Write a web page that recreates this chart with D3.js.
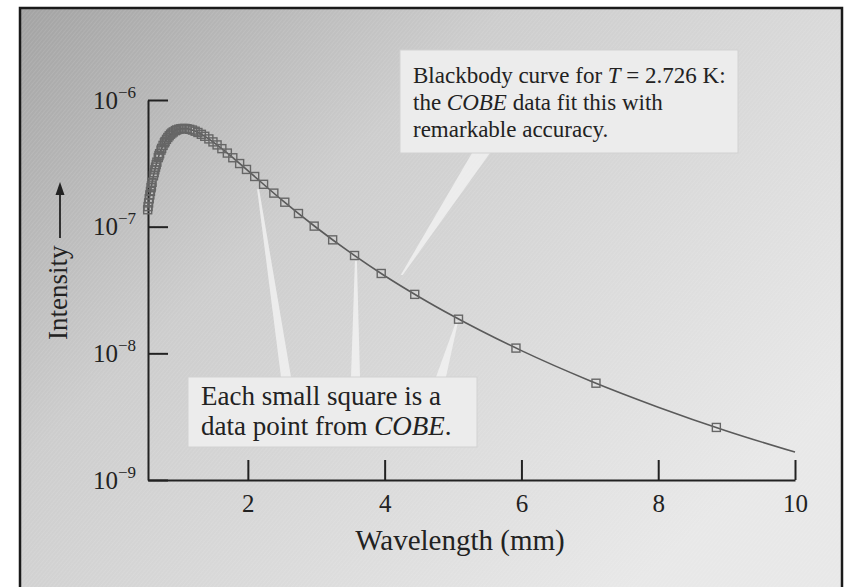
<!DOCTYPE html>
<html>
<head>
<meta charset="utf-8">
<script src="https://cdn.jsdelivr.net/npm/d3@7"></script>
<style>
  body { margin: 0; background: #fff; }
  svg text { font-family: "Liberation Serif", "Times New Roman", serif; fill: #222; }
</style>
</head>
<body>
<div id="chart"></div>
<script>
// COBE data points (wavelength in mm, intensity)
const cobeWavelength = [8.85, 7.09, 5.92, 5.08, 4.44, 3.95, 3.56, 3.24, 2.97, 2.74, 2.54, 2.38, 2.23, 2.10, 1.98,
  1.88, 1.78, 1.70, 1.62, 1.55, 1.49, 1.43, 1.37, 1.32, 1.27, 1.23, 1.19, 1.15, 1.11, 1.08, 1.05, 1.02, 0.99,
  0.96, 0.94, 0.91, 0.89, 0.87, 0.85, 0.83, 0.81, 0.79, 0.78, 0.76, 0.74, 0.73, 0.71, 0.70, 0.69, 0.67, 0.66,
  0.65, 0.64, 0.63, 0.62, 0.60, 0.59, 0.585, 0.576, 0.567, 0.558, 0.549, 0.541, 0.535]
const cobeIntensity = [2.60e-9, 5.81e-9, 1.10e-8, 1.86e-8, 2.92e-8, 4.27e-8, 5.92e-8, 7.87e-8, 1.01e-7, 1.27e-7,
  1.56e-7, 1.84e-7, 2.16e-7, 2.49e-7, 2.83e-7, 3.15e-7, 3.50e-7, 3.81e-7, 4.13e-7, 4.42e-7, 4.67e-7, 4.93e-7,
  5.17e-7, 5.36e-7, 5.54e-7, 5.67e-7, 5.79e-7, 5.87e-7, 5.93e-7, 5.96e-7, 5.96e-7, 5.93e-7, 5.88e-7, 5.80e-7,
  5.73e-7, 5.60e-7, 5.49e-7, 5.37e-7, 5.22e-7, 5.06e-7, 4.89e-7, 4.70e-7, 4.59e-7, 4.38e-7, 4.15e-7, 4.02e-7,
  3.77e-7, 3.64e-7, 3.51e-7, 3.23e-7, 3.09e-7, 2.95e-7, 2.81e-7, 2.67e-7, 2.52e-7, 2.24e-7, 2.10e-7, 2.03e-7,
  1.90e-7, 1.78e-7, 1.66e-7, 1.54e-7, 1.44e-7, 1.36e-7]

// blackbody curve T = 2.726 K, sampled from the drawn line
const curveWavelength = [0.535, 0.54, 0.6, 0.65, 0.7, 0.75, 0.8, 0.9, 1.0, 1.1, 1.2, 1.3, 1.4, 1.6, 1.8, 2.0,
  2.5, 3.0, 3.5, 4.0, 4.5, 5.0, 6.0, 7.0, 8.0, 9.0, 10.0]
const curveIntensity = [1.36e-7, 1.42e-7, 2.24e-7, 2.95e-7, 3.64e-7, 4.26e-7, 4.79e-7, 5.53e-7, 5.90e-7, 5.94e-7,
  5.76e-7, 5.44e-7, 5.05e-7, 4.21e-7, 3.43e-7, 2.77e-7, 1.62e-7, 9.85e-8, 6.23e-8, 4.10e-8, 2.80e-8, 1.97e-8,
  1.05e-8, 6.08e-9, 3.76e-9, 2.44e-9, 1.66e-9]

const xTicks = [2, 4, 6, 8, 10]
const yTicks = [1e-6, 1e-7, 1e-8, 1e-9]
const yExponents = ['−6', '−7', '−8', '−9']

const width = 848
const height = 587

const svg = d3.select('#chart').append('svg')
  .attr('width', width)
  .attr('height', height)

const defs = svg.append('defs')
const grad = defs.append('linearGradient')
  .attr('id', 'bg')
  .attr('gradientUnits', 'userSpaceOnUse')
  .attr('x1', 20).attr('y1', 0)
  .attr('x2', 600).attr('y2', 620)
grad.append('stop').attr('offset', 0).attr('stop-color', '#a2a2a2')
grad.append('stop').attr('offset', 0.4).attr('stop-color', '#cdcdcd')
grad.append('stop').attr('offset', 1).attr('stop-color', '#e8e8e8')

const hatch = defs.append('pattern')
  .attr('id', 'hatch')
  .attr('patternUnits', 'userSpaceOnUse')
  .attr('width', 3).attr('height', 3)
  .attr('patternTransform', 'rotate(40)')
hatch.append('line')
  .attr('x1', 0).attr('y1', 0).attr('x2', 0).attr('y2', 3)
  .attr('stroke', '#fff').attr('stroke-opacity', 0.18).attr('stroke-width', 1)

// panel with frame
svg.append('rect')
  .attr('x', 20).attr('y', 8)
  .attr('width', 822).attr('height', 600)
  .attr('fill', 'url(#bg)')
svg.append('rect')
  .attr('x', 20).attr('y', 8)
  .attr('width', 822).attr('height', 600)
  .attr('fill', 'url(#hatch)')
  .attr('stroke', '#1a1a1a')
  .attr('stroke-width', 2.5)

const x = d3.scaleLinear().domain([0.54, 10]).range([148, 795])
const y = d3.scaleLog().domain([1e-9, 1e-6]).range([480, 100])

// annotation boxes + pointers, drawn under the data
const pointers = [
  { base: [472, 490, 153], lambda: 4.25, intensity: 3.4e-8, dy: -11 },
  { base: [281, 291, 377], lambda: 2.15, intensity: 2.45e-7, dy: 12 },
  { base: [351, 360, 377], lambda: 3.58, intensity: 5.9e-8, dy: 5 },
  { base: [436, 446, 377], lambda: 5.06, intensity: 1.88e-8, dy: 3 }
]
svg.append('g').selectAll('polygon')
  .data(pointers)
  .join('polygon')
  .attr('points', d => {
    const tx = x(d.lambda)
    const ty = y(d.intensity) + d.dy
    return [[d.base[0], d.base[2]], [d.base[1], d.base[2]], [tx + 1, ty], [tx - 1, ty]].join(' ')
  })
  .attr('fill', '#f3f3f3')
  .attr('fill-opacity', 0.8)

const boxes = [
  { x: 400, y: 50, w: 338, h: 103, size: 23, top: 33, lead: 27, lines: [
    [['Blackbody curve for ', false], ['T', true], [' = 2.726 K:', false]],
    [['the ', false], ['COBE', true], [' data fit this with', false]],
    [['remarkable accuracy.', false]]
  ] },
  { x: 188, y: 377, w: 289, h: 70, size: 27, top: 28, lead: 30, lines: [
    [['Each small square is a', false]],
    [['data point from ', false], ['COBE', true], ['.', false]]
  ] }
]
const box = svg.append('g').selectAll('g')
  .data(boxes)
  .join('g')
box.append('rect')
  .attr('x', d => d.x).attr('y', d => d.y)
  .attr('width', d => d.w).attr('height', d => d.h)
  .attr('fill', '#ececec')
  .attr('stroke', '#d2d2d2')
  .attr('stroke-width', 1)
box.each(function (d) {
  const g = d3.select(this)
  d.lines.forEach((line, i) => {
    const t = g.append('text')
      .attr('x', d.x + 13)
      .attr('y', d.y + d.top + i * d.lead)
      .style('font-size', d.size + 'px')
    line.forEach(seg => {
      t.append('tspan').text(seg[0]).style('font-style', seg[1] ? 'italic' : 'normal')
    })
  })
})

// axes
const xAxis = svg.append('g')
  .attr('transform', 'translate(0,480)')
  .call(d3.axisBottom(x).tickValues(xTicks).tickSize(-20).tickSizeOuter(0).tickFormat(d3.format('d')))
xAxis.select('.domain').attr('stroke', '#222').attr('stroke-width', 2)
xAxis.selectAll('.tick line').attr('stroke', '#222').attr('stroke-width', 2)
xAxis.selectAll('.tick text')
  .attr('y', 32).attr('dy', null)
  .attr('fill', '#222')
  .style('font-size', '25px')
  .style('font-family', '"Liberation Serif", serif')

const yAxis = svg.append('g')
  .attr('transform', 'translate(148,0)')
  .call(d3.axisLeft(y).tickValues(yTicks).tickSize(-20).tickSizeOuter(0).tickFormat(''))
yAxis.select('.domain').attr('stroke', '#222').attr('stroke-width', 2)
yAxis.selectAll('.tick line').attr('stroke', '#222').attr('stroke-width', 2)
yAxis.selectAll('.tick').each(function (d, i) {
  const t = d3.select(this).append('text')
    .attr('x', -12).attr('y', 8)
    .attr('text-anchor', 'end')
    .attr('fill', '#222')
    .style('font-size', '25px')
    .style('font-family', '"Liberation Serif", serif')
  t.append('tspan').text('10')
  t.append('tspan').attr('dy', -11).style('font-size', '17px').text(yExponents[i])
})

// curve and data squares
const line = d3.line()
  .x((d, i) => x(curveWavelength[i]))
  .y(d => y(d))
  .curve(d3.curveMonotoneX)
svg.append('path')
  .datum(curveIntensity)
  .attr('d', line)
  .attr('fill', 'none')
  .attr('stroke', '#5a5a5a')
  .attr('stroke-width', 1.6)

const sq = 8
svg.append('g').selectAll('rect')
  .data(cobeIntensity)
  .join('rect')
  .attr('x', (d, i) => x(cobeWavelength[i]) - sq / 2)
  .attr('y', d => y(d) - sq / 2)
  .attr('width', sq).attr('height', sq)
  .attr('fill', 'none')
  .attr('stroke', '#666')
  .attr('stroke-width', 1.4)

// axis titles
svg.append('text')
  .attr('x', 460).attr('y', 550)
  .attr('text-anchor', 'middle')
  .style('font-size', '29px')
  .text('Wavelength (mm)')

const yTitle = svg.append('g').attr('transform', 'translate(67,340) rotate(-90)')
yTitle.append('text')
  .attr('x', 0).attr('y', 0)
  .style('font-size', '27px')
  .text('Intensity')
yTitle.append('line')
  .attr('x1', 102).attr('x2', 150)
  .attr('y1', -7).attr('y2', -7)
  .attr('stroke', '#222').attr('stroke-width', 1.8)
yTitle.append('path')
  .attr('d', 'M158,-7 L145,-11.5 L145,-2.5 Z')
  .attr('fill', '#222')
</script>
</body>
</html>
